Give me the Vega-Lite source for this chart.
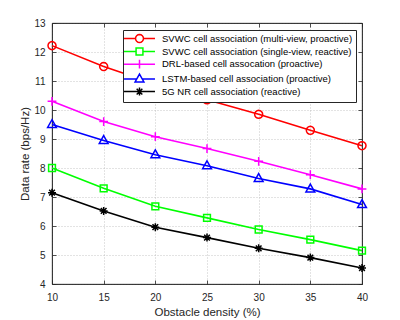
{
  "$schema": "https://vega.github.io/schema/vega-lite/v6.json",
  "width": 310,
  "height": 261,
  "autosize": {"type": "none"},
  "padding": {"left": 52, "top": 23, "right": 38, "bottom": 36},
  "background": "white",
  "config": {"view": {"stroke": "#262626", "strokeWidth": 0.8}, "font": "Liberation Sans"},
  "data": {"values": [
    {"series": "SVWC cell association (multi-view, proactive)", "x": 10, "y": 12.22},
    {"series": "SVWC cell association (multi-view, proactive)", "x": 15, "y": 11.5},
    {"series": "SVWC cell association (multi-view, proactive)", "x": 20, "y": 10.9},
    {"series": "SVWC cell association (multi-view, proactive)", "x": 25, "y": 10.35},
    {"series": "SVWC cell association (multi-view, proactive)", "x": 30, "y": 9.85},
    {"series": "SVWC cell association (multi-view, proactive)", "x": 35, "y": 9.3},
    {"series": "SVWC cell association (multi-view, proactive)", "x": 40, "y": 8.77},
    {"series": "SVWC cell association (single-view, reactive)", "x": 10, "y": 8.0},
    {"series": "SVWC cell association (single-view, reactive)", "x": 15, "y": 7.3},
    {"series": "SVWC cell association (single-view, reactive)", "x": 20, "y": 6.68},
    {"series": "SVWC cell association (single-view, reactive)", "x": 25, "y": 6.28},
    {"series": "SVWC cell association (single-view, reactive)", "x": 30, "y": 5.88},
    {"series": "SVWC cell association (single-view, reactive)", "x": 35, "y": 5.53},
    {"series": "SVWC cell association (single-view, reactive)", "x": 40, "y": 5.15},
    {"series": "DRL-based cell assocation (proactive)", "x": 10, "y": 10.3},
    {"series": "DRL-based cell assocation (proactive)", "x": 15, "y": 9.6},
    {"series": "DRL-based cell assocation (proactive)", "x": 20, "y": 9.08},
    {"series": "DRL-based cell assocation (proactive)", "x": 25, "y": 8.67},
    {"series": "DRL-based cell assocation (proactive)", "x": 30, "y": 8.23},
    {"series": "DRL-based cell assocation (proactive)", "x": 35, "y": 7.77},
    {"series": "DRL-based cell assocation (proactive)", "x": 40, "y": 7.28},
    {"series": "LSTM-based cell association (proactive)", "x": 10, "y": 9.5},
    {"series": "LSTM-based cell association (proactive)", "x": 15, "y": 8.95},
    {"series": "LSTM-based cell association (proactive)", "x": 20, "y": 8.46},
    {"series": "LSTM-based cell association (proactive)", "x": 25, "y": 8.08},
    {"series": "LSTM-based cell association (proactive)", "x": 30, "y": 7.64},
    {"series": "LSTM-based cell association (proactive)", "x": 35, "y": 7.28},
    {"series": "LSTM-based cell association (proactive)", "x": 40, "y": 6.74},
    {"series": "5G NR cell association (reactive)", "x": 10, "y": 7.15},
    {"series": "5G NR cell association (reactive)", "x": 15, "y": 6.52},
    {"series": "5G NR cell association (reactive)", "x": 20, "y": 5.96},
    {"series": "5G NR cell association (reactive)", "x": 25, "y": 5.6},
    {"series": "5G NR cell association (reactive)", "x": 30, "y": 5.23},
    {"series": "5G NR cell association (reactive)", "x": 35, "y": 4.91},
    {"series": "5G NR cell association (reactive)", "x": 40, "y": 4.55}
  ]},
  "layer": [
    {
      "mark": {"type": "line", "strokeWidth": 1.6},
      "encoding": {
        "x": {"field": "x", "type": "quantitative", "scale": {"domain": [10, 40], "nice": false, "zero": false},
          "axis": {"orient": "bottom", "values": [10, 15, 20, 25, 30, 35, 40], "title": "Obstacle density (%)", "grid": true, "gridDash": [1, 2], "gridColor": "#b0b0b0", "gridWidth": 0.7, "domainColor": "#262626", "domainWidth": 0.8, "tickColor": "#262626", "tickSize": -4, "tickWidth": 0.8, "labelPadding": 12, "labelFontSize": 10, "labelColor": "#262626", "labelFlush": false, "labelOverlap": false, "titleFontSize": 11.5, "titleFontWeight": "normal", "titleColor": "#262626", "titlePadding": 4}},
        "y": {"field": "y", "type": "quantitative", "scale": {"domain": [4, 13], "nice": false, "zero": false},
          "axis": {"orient": "left", "values": [4, 5, 6, 7, 8, 9, 10, 11, 12, 13], "title": "Data rate (bps/Hz)", "grid": true, "gridDash": [1, 2], "gridColor": "#b0b0b0", "gridWidth": 0.7, "domainColor": "#262626", "domainWidth": 0.8, "tickColor": "#262626", "tickSize": -4, "tickWidth": 0.8, "labelPadding": 11, "labelFontSize": 10, "labelColor": "#262626", "labelFlush": false, "labelOverlap": false, "titleFontSize": 11.5, "titleFontWeight": "normal", "titleColor": "#262626", "titlePadding": 3}},
        "color": {"field": "series", "type": "nominal", "legend": null,
          "scale": {"domain": ["SVWC cell association (multi-view, proactive)", "SVWC cell association (single-view, reactive)", "DRL-based cell assocation (proactive)", "LSTM-based cell association (proactive)", "5G NR cell association (reactive)"], "range": ["#ff0000", "#00ff00", "#ff00ff", "#0000ff", "#000000"]}}
      }
    },
    {
      "mark": {"type": "point", "filled": false, "strokeWidth": 1.5, "size": 64, "opacity": 1},
      "encoding": {
        "x": {"field": "x", "type": "quantitative", "axis": null},
        "y": {"field": "y", "type": "quantitative", "axis": null},
        "color": {"field": "series", "type": "nominal", "legend": null,
          "scale": {"domain": ["SVWC cell association (multi-view, proactive)", "SVWC cell association (single-view, reactive)", "DRL-based cell assocation (proactive)", "LSTM-based cell association (proactive)", "5G NR cell association (reactive)"], "range": ["#ff0000", "#00ff00", "#ff00ff", "#0000ff", "#000000"]}},
        "shape": {"field": "series", "type": "nominal", "legend": null,
          "scale": {"domain": ["SVWC cell association (multi-view, proactive)", "SVWC cell association (single-view, reactive)", "DRL-based cell assocation (proactive)", "LSTM-based cell association (proactive)", "5G NR cell association (reactive)"],
            "range": [
              "M1,0L0.924,0.383L0.707,0.707L0.383,0.924L0,1L-0.383,0.924L-0.707,0.707L-0.924,0.383L-1,0L-0.924,-0.383L-0.707,-0.707L-0.383,-0.924L0,-1L0.383,-0.924L0.707,-0.707L0.924,-0.383Z",
              "M-0.85,-0.85L0.85,-0.85L0.85,0.85L-0.85,0.85Z",
              "M-1.1,0L1.1,0M0,-1.1L0,1.1",
              "M0,-1.2L1.1,0.75L-1.1,0.75Z",
              "M-1,0L1,0M0,-1L0,1M-0.71,-0.71L0.71,0.71M-0.71,0.71L0.71,-0.71"
            ]}}
      }
    },
    {
      "transform": [{"filter": "false"}],
      "mark": {"type": "point", "filled": false, "strokeWidth": 1.5, "size": 81, "opacity": 1},
      "encoding": {
        "x": {"field": "x", "type": "quantitative",
          "axis": {"orient": "top", "values": [10, 15, 20, 25, 30, 35, 40], "labels": false, "title": null, "grid": false, "domainColor": "#262626", "domainWidth": 0.8, "tickColor": "#262626", "tickSize": -4, "tickWidth": 0.8}},
        "y": {"field": "y", "type": "quantitative",
          "axis": {"orient": "right", "values": [4, 5, 6, 7, 8, 9, 10, 11, 12, 13], "labels": false, "title": null, "grid": false, "domainColor": "#262626", "domainWidth": 0.8, "tickColor": "#262626", "tickSize": -4, "tickWidth": 0.8}},
        "color": {"field": "series", "type": "nominal",
          "scale": {"domain": ["SVWC cell association (multi-view, proactive)", "SVWC cell association (single-view, reactive)", "DRL-based cell assocation (proactive)", "LSTM-based cell association (proactive)", "5G NR cell association (reactive)"], "range": ["#ff0000", "#00ff00", "#ff00ff", "#0000ff", "#000000"]},
          "legend": {"orient": "none", "legendX": 71, "legendY": 7, "direction": "vertical", "title": null, "padding": 3, "strokeColor": "#262626", "fillColor": "white", "symbolSize": 81, "symbolStrokeWidth": 1.5, "symbolOffset": 8, "labelOffset": 17, "rowPadding": -1.3, "labelFontSize": 9.5, "labelFont": "Liberation Sans", "labelColor": "#000000", "labelLimit": 0}},
        "shape": {"field": "series", "type": "nominal",
          "scale": {"domain": ["SVWC cell association (multi-view, proactive)", "SVWC cell association (single-view, reactive)", "DRL-based cell assocation (proactive)", "LSTM-based cell association (proactive)", "5G NR cell association (reactive)"],
            "range": [
              "M-3.44,0L-0.89,0M0.89,0L3.44,0M0.89,0L0.822,0.341L0.629,0.629L0.341,0.822L0,0.89L-0.341,0.822L-0.629,0.629L-0.822,0.341L-0.89,0L-0.822,-0.341L-0.629,-0.629L-0.341,-0.822L0,-0.89L0.341,-0.822L0.629,-0.629L0.822,-0.341Z",
              "M-3.44,0L-0.76,0M0.76,0L3.44,0M-0.76,-0.76L0.76,-0.76L0.76,0.76L-0.76,0.76Z",
              "M-3.44,0L3.44,0M0,-0.98L0,0.98",
              "M-3.44,0L-0.6,0M0.6,0L3.44,0M0,-1.07L0.98,0.67L-0.98,0.67Z",
              "M-3.44,0L3.44,0M0,-0.89L0,0.89M-0.63,-0.63L0.63,0.63M-0.63,0.63L0.63,-0.63"
            ]},
          "legend": {"orient": "none", "legendX": 71, "legendY": 7, "direction": "vertical", "title": null, "padding": 3, "strokeColor": "#262626", "fillColor": "white", "symbolSize": 81, "symbolStrokeWidth": 1.5, "symbolOffset": 8, "labelOffset": 17, "rowPadding": -1.3, "labelFontSize": 9.5, "labelFont": "Liberation Sans", "labelColor": "#000000", "labelLimit": 0}}
      }
    }
  ],
  "resolve": {"scale": {"color": "independent", "shape": "independent"}, "axis": {"x": "independent", "y": "independent"}}
}
